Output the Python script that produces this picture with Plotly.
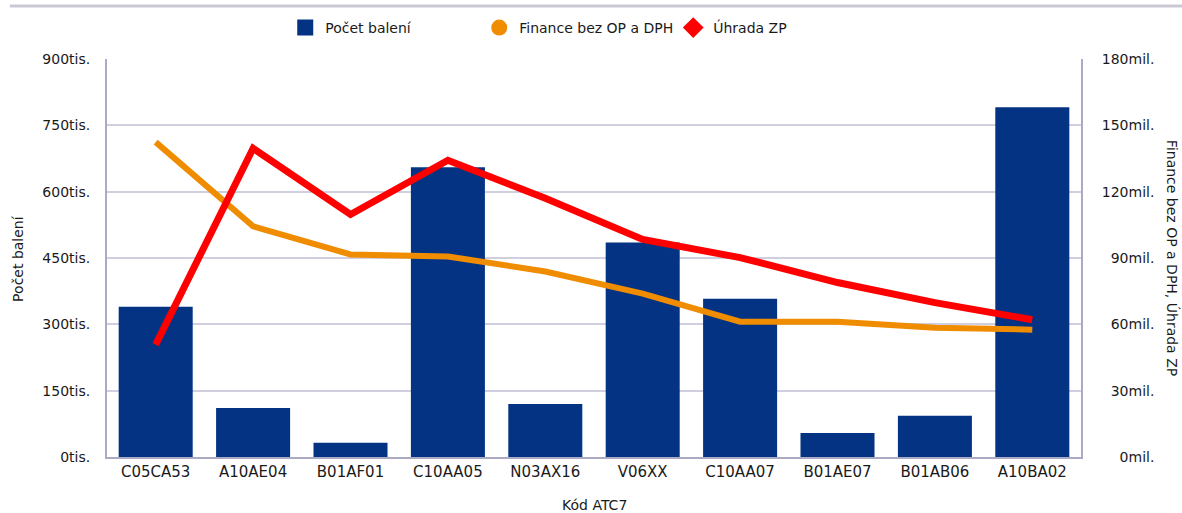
import plotly.graph_objects as go

categories = ["C05CA53", "A10AE04", "B01AF01", "C10AA05", "N03AX16",
              "V06XX", "C10AA07", "B01AE07", "B01AB06", "A10BA02"]
pocet_baleni = [340000, 111000, 32000, 655000, 120000,
                485000, 358000, 54000, 93000, 791000]
finance = [142.4e6, 104.3e6, 91.6e6, 90.7e6, 83.9e6,
           73.9e6, 61.2e6, 61.2e6, 58.5e6, 57.6e6]
uhrada = [50.8e6, 139.6e6, 109.7e6, 134.2e6, 117.0e6,
          98.4e6, 90.2e6, 78.9e6, 69.8e6, 62.1e6]

left_ticks = [0, 150000, 300000, 450000, 600000, 750000, 900000]
left_labels = ["0tis.", "150tis.", "300tis.", "450tis.", "600tis.", "750tis.", "900tis."]
right_ticks = [0, 30e6, 60e6, 90e6, 120e6, 150e6, 180e6]
right_labels = ["\u2007\u20070mil.", "\u200730mil.", "\u200760mil.", "\u200790mil.",
                "120mil.", "150mil.", "180mil."]

BLUE = "#033382"
ORANGE = "#F08C00"
RED = "#FF0000"
FONT = "DejaVu Sans"
TXT = "#1a1a1a"

fig = go.Figure()
fig.add_trace(go.Bar(x=categories, y=pocet_baleni, name="Počet balení",
                     marker=dict(color=BLUE, line=dict(width=0)), yaxis="y",
                     showlegend=False))
fig.add_trace(go.Scatter(x=categories, y=finance, mode="lines", name="Finance bez OP a DPH",
                         line=dict(color=ORANGE, width=6), yaxis="y2", showlegend=False))
fig.add_trace(go.Scatter(x=categories, y=uhrada, mode="lines", name="Úhrada ZP",
                         line=dict(color=RED, width=7), yaxis="y2", showlegend=False))
# legend entries
fig.add_trace(go.Scatter(x=[None], y=[None], mode="markers", name="Počet balení",
                         marker=dict(color=BLUE, size=20, symbol="square"), yaxis="y"))
fig.add_trace(go.Scatter(x=[None], y=[None], mode="markers", name="Finance bez OP a DPH",
                         marker=dict(color=ORANGE, size=20, symbol="circle"), yaxis="y2"))
fig.add_trace(go.Scatter(x=[None], y=[None], mode="markers", name="Úhrada ZP",
                         marker=dict(color=RED, size=20, symbol="diamond"), yaxis="y2"))

grid = "#cfcfdf"
axis_line = "#aaaac4"

fig.update_layout(
    width=1182, height=513,
    margin=dict(l=107, r=101, t=59, b=56, autoexpand=False),
    paper_bgcolor="white", plot_bgcolor="white",
    font=dict(family=FONT, size=14, color=TXT),
    bargap=0.24,
    showlegend=True,
    legend=dict(orientation="h", x=0.183, y=1.078, xanchor="left", yanchor="middle",
                font=dict(size=14, family=FONT, color=TXT),
                entrywidth=149, entrywidthmode="pixels", itemsizing="trace"),
    xaxis=dict(showline=True, linecolor=axis_line, linewidth=2, ticks="",
               tickfont=dict(size=15)),
    yaxis=dict(range=[0, 900000], tickvals=left_ticks, ticktext=left_labels,
               showgrid=True, gridcolor=grid, gridwidth=1.5, zeroline=False,
               showline=True, linecolor=axis_line, linewidth=2,
               ticks="", ticklabelstandoff=12,
               tickfont=dict(size=14)),
    yaxis2=dict(range=[0, 180e6], tickvals=right_ticks, ticktext=right_labels,
                overlaying="y", side="right", showgrid=False, zeroline=False,
                showline=True, linecolor=axis_line, linewidth=2, ticks="",
                ticklabelstandoff=16,
                tickfont=dict(size=14)),
    annotations=[
        dict(text="Finance bez OP a DPH, Úhrada ZP", textangle=90,
             xref="paper", yref="paper", x=1.0946, y=0.5,
             xanchor="center", yanchor="middle", showarrow=False,
             font=dict(size=14, family=FONT, color=TXT)),
        dict(text="Počet balení", textangle=-90,
             xref="paper", yref="paper", x=-0.0915, y=0.5,
             xanchor="center", yanchor="middle", showarrow=False,
             font=dict(size=14, family=FONT, color=TXT)),
        dict(text="Kód ATC7",
             xref="paper", yref="paper", x=0.5, y=-0.1206,
             xanchor="center", yanchor="middle", showarrow=False,
             font=dict(size=14, family=FONT, color=TXT)),
    ],
    shapes=[dict(type="line", xref="paper", yref="paper", layer="above",
                 x0=-0.0997, x1=1.11, y0=1.1332, y1=1.1332,
                 line=dict(color="#c9c9d6", width=3))],
)

fig.write_html("out.html", config={"displayModeBar": False},
               post_script="document.body.style.margin='0px';document.body.style.overflow='hidden';")
